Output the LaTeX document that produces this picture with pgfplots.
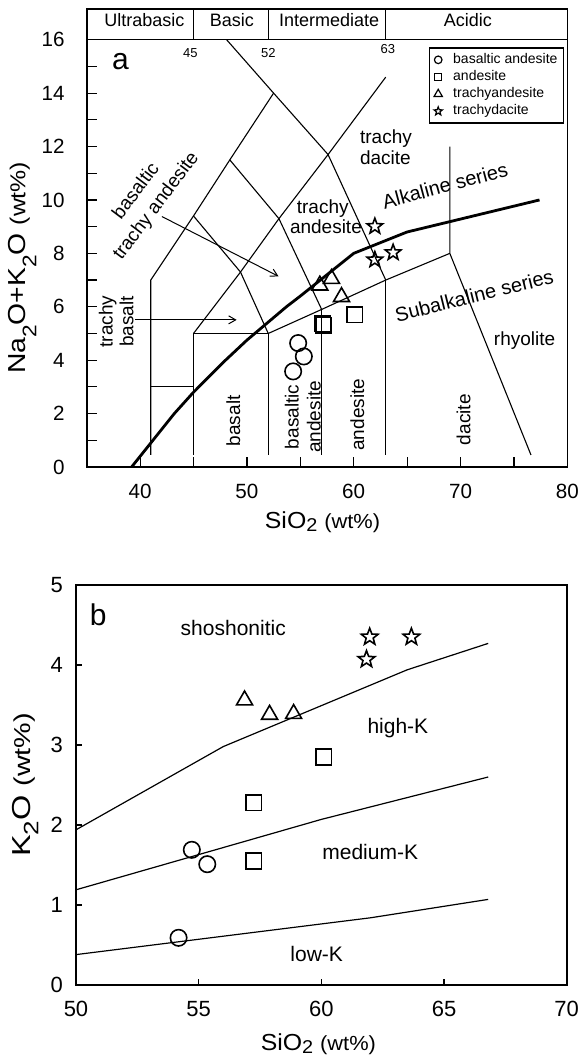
\documentclass[border=0pt]{standalone}
\usepackage{fontspec}
\setmainfont{Liberation Sans}
\usepackage{graphicx}
\usepackage{pgfplots}
\pgfplotsset{compat=1.18}
\usetikzlibrary{arrows.meta}

\newcommand{\fs}[1]{\fontsize{#1}{#1}\selectfont}
\newcommand{\fsl}[2]{\fontsize{#1}{#2}\selectfont}
\newcommand{\sub}[2][0.15em]{\raisebox{-#1}{\scalebox{0.8}{#2}}}

\pgfdeclareplotmark{ostar}{%
 \pgfpathmoveto{\pgfpointpolar{90}{\pgfplotmarksize}}%
 \pgfpathlineto{\pgfpointpolar{126}{0.42\pgfplotmarksize}}%
 \pgfpathlineto{\pgfpointpolar{162}{\pgfplotmarksize}}%
 \pgfpathlineto{\pgfpointpolar{198}{0.42\pgfplotmarksize}}%
 \pgfpathlineto{\pgfpointpolar{234}{\pgfplotmarksize}}%
 \pgfpathlineto{\pgfpointpolar{270}{0.42\pgfplotmarksize}}%
 \pgfpathlineto{\pgfpointpolar{306}{\pgfplotmarksize}}%
 \pgfpathlineto{\pgfpointpolar{342}{0.42\pgfplotmarksize}}%
 \pgfpathlineto{\pgfpointpolar{18}{\pgfplotmarksize}}%
 \pgfpathlineto{\pgfpointpolar{54}{0.42\pgfplotmarksize}}%
 \pgfpathclose
 \pgfusepathqstroke}

\pgfplotsset{
  every axis/.append style={
    scale only axis,
    axis line style={line width=0.8pt},
    tick align=inside,
    tick pos=left,
    tick style={line width=0.6pt, black},
    /pgf/number format/assume math mode=true,
  },
  bline/.style={black, line width=0.55pt, no markers, forget plot},
  pcirc/.style={only marks, mark=o, mark size=4.1pt, line width=0.8pt, black},
  psq/.style={only marks, mark=square, mark size=3.9pt, line width=0.8pt, black},
  ptri/.style={only marks, mark=triangle, mark size=4.6pt, line width=0.8pt, black},
  pstar/.style={only marks, mark=ostar, mark size=4.1pt, line width=0.8pt, black},
}

\begin{document}
\begin{tikzpicture}
\path[use as bounding box] (0,0) rectangle (290.5pt,-529.5pt);

% ---------------- panel a ----------------
\begin{axis}[
  at={(43.35pt,-4.5pt)}, anchor=north west,
  width=240.3pt, height=229pt,
  xmin=35, xmax=80, ymin=0, ymax=17.15,
  xtick={40,50,...,80}, minor xtick={45,55,65,75},
  ytick={0,2,...,16}, minor ytick={1,3,...,15},
  major tick length=5pt, minor tick length=5pt,
  tick label style={font=\fs{10.3}},
  xticklabel style={yshift=-5pt},
  yticklabel style={xshift=-7.5pt},
  xlabel={\fs{11.6}\scalebox{1.07}[1]{SiO\sub{2} {\fs{10.2}(wt\%)}}},
  ylabel={\fs{12.3}\scalebox{1.15}[1]{Na\sub[0.45em]{2}O+K\sub[0.45em]{2}O {\fs{10.8}(wt\%)}}},
  xlabel style={at={(axis description cs:0.4906,-0.1332)}, anchor=base},
  ylabel style={at={(axis description cs:-0.134,0.435)}, anchor=center},
  legend style={at={(axis cs:79.7,15.71)}, anchor=north east, draw=black,
    line width=0.6pt, font=\fs{7}, inner xsep=1pt, inner ysep=2.2pt,
    row sep=1.2pt, fill=white, nodes={inner ysep=0.4pt}},
  legend cell align=left,
  legend image code/.code={%
    \path[draw=none, fill=none] (-3.5pt,-3.2pt) (5.5pt,3.2pt);
    \draw[#1] plot coordinates {(0pt,0pt)};},
]
% field boundaries
\addplot[bline] coordinates {(41,0.45) (41,7) (45,9.4) (48.4,11.5) (52.5,14)};
\addplot[bline] coordinates {(41,3) (45,3)};
\addplot[bline] coordinates {(45,0.45) (45,5) (52,5) (52,0.45)};
\addplot[bline] coordinates {(45,5) (49.4,7.3) (53,9.3) (57.6,11.7) (63,14.6)};
\addplot[bline] coordinates {(45,9.4) (49.4,7.3) (52,5)};
\addplot[bline] coordinates {(48.4,11.5) (53,9.3) (57,5.9)};
\addplot[bline] coordinates {(48.1,16) (52.5,14) (57.6,11.7) (63,7)};
\addplot[bline] coordinates {(52,5) (57,5.9) (63,7) (69,8)};
\addplot[bline] coordinates {(57,0.45) (57,5.9)};
\addplot[bline] coordinates {(63,0.45) (63,7)};
\addplot[bline] coordinates {(76.6,0.45) (69,8) (69,12)};
% alkaline / subalkaline divide
\addplot[black, line width=1.4pt, no markers, forget plot] coordinates
  {(39.2,0) (40,0.4) (43.2,2) (45,2.8) (48,4) (50,4.75) (53.7,6) (55,6.4) (60,8) (65,8.8) (77.4,10)};

% header band
\draw[line width=0.7pt] (axis cs:35,16) -- (axis cs:80,16);
\draw[line width=0.6pt] (axis cs:45,16) -- (axis cs:45,17.15);
\draw[line width=0.6pt] (axis cs:52,16) -- (axis cs:52,17.15);
\draw[line width=0.6pt] (axis cs:63,16) -- (axis cs:63,17.15);
\node[anchor=base, font=\fs{9}] at (axis cs:40.4,16.48) {Ultrabasic};
\node[anchor=base, font=\fs{9}] at (axis cs:48.6,16.48) {Basic};
\node[anchor=base, font=\fs{9}] at (axis cs:57.7,16.48) {Intermediate};
\node[anchor=base, font=\fs{9}] at (axis cs:70.7,16.48) {Acidic};
\node[font=\fs{6.5}] at (axis cs:44.7,15.5) {45};
\node[font=\fs{6.5}] at (axis cs:52.0,15.5) {52};
\node[font=\fs{6.5}] at (axis cs:63.2,15.65) {63};

% panel letter
\node[anchor=base west, font=\fs{15}, inner sep=0pt] at (axis cs:37.35,14.87) {a};

% field labels
\node[anchor=west, align=left, font=\fsl{9.5}{10.8}, inner sep=0pt] at (axis cs:60.56,11.97) {trachy\\dacite};
\node[anchor=base west, font=\fs{9.5}, inner sep=0pt] at (axis cs:54.64,9.5) {trachy};
\node[anchor=base west, font=\fs{9.5}, inner sep=0pt] at (axis cs:54.0,8.76) {andesite};
\node[rotate=53, align=center, font=\fsl{9.5}{12.5}, inner sep=0pt] at (axis cs:40.6,10.04) {basaltic\\trachy andesite};
\node[rotate=90, align=center, font=\fsl{9.5}{10.3}, inner sep=0pt] at (axis cs:37.76,5.45) {trachy\\basalt};
\node[rotate=90, font=\fs{9.5}, inner sep=0pt] at (axis cs:48.72,1.73) {basalt};
\node[rotate=90, align=center, font=\fsl{9.5}{11}, inner sep=0pt] at (axis cs:55.23,1.88) {basaltic\\andesite};
\node[rotate=90, font=\fs{9.5}, inner sep=0pt] at (axis cs:60.33,1.96) {andesite};
\node[rotate=90, font=\fs{9.5}, inner sep=0pt] at (axis cs:70.3,1.77) {dacite};
\node[anchor=base, font=\fs{9.5}] at (axis cs:76.0,4.55) {rhyolite};
\node[rotate=15, font=\fs{10}] at (axis cs:68.55,10.54) {Alkaline series};
\node[rotate=14, font=\fs{10}] at (axis cs:71.28,6.42) {Subalkaline series};

% arrows
\draw[line width=0.5pt, -{Straight Barb[length=3.5pt,width=4pt]}] (axis cs:42.04,9.38) -- (axis cs:52.96,7.14);
\draw[line width=0.5pt, -{Straight Barb[length=3.5pt,width=4pt]}] (axis cs:39.52,5.51) -- (axis cs:49.04,5.51);

% samples
\addplot[pcirc, legend image post style={mark size=1.9pt, line width=0.6pt}] coordinates {(54.33,3.58) (54.8,4.64) (55.33,4.14)};
\addlegendentry{basaltic andesite}
\addplot[psq, legend image post style={mark size=1.7pt, line width=0.6pt}] coordinates {(57.1,5.37) (57.2,5.31) (60.1,5.7)};
\addlegendentry{andesite}
\addplot[ptri, legend image post style={mark size=2.4pt, line width=0.6pt}] coordinates {(56.83,6.8) (57.92,7.05) (58.86,6.37)};
\addlegendentry{trachyandesite}
\addplot[pstar, legend image post style={mark size=2.2pt, line width=0.6pt}] coordinates {(61.98,7.76) (63.69,8.03) (61.98,9.01)};
\addlegendentry{trachydacite}
\end{axis}

% ---------------- panel b ----------------
\begin{axis}[
  at={(38pt,-292.5pt)}, anchor=north west,
  width=245.35pt, height=200pt,
  xmin=50, xmax=70, ymin=0, ymax=5,
  xtick={50,55,...,70}, ytick={0,1,...,5},
  major tick length=3pt,
  tick label style={font=\fs{11}},
  xticklabel style={yshift=-4.5pt},
  yticklabel style={xshift=-3pt},
  xlabel={\fs{11.6}\scalebox{1.07}[1]{SiO\sub{2} {\fs{10.2}(wt\%)}}},
  ylabel={\fs{13}\scalebox{1.25}[1]{K\sub[0.3em]{2}O {\fs{11.5}(wt\%)}}},
  xlabel style={at={(axis description cs:0.494,-0.1625)}, anchor=base},
  ylabel style={at={(axis description cs:-0.1029,0.5)}, anchor=center},
]
\addplot[black, line width=0.6pt, no markers, forget plot] coordinates {(50,1.94) (56,2.98) (63.5,3.94) (66.8,4.27)};
\addplot[black, line width=0.6pt, no markers, forget plot] coordinates {(50,1.19) (60,2.07) (66.8,2.6)};
\addplot[black, line width=0.6pt, no markers, forget plot] coordinates {(50,0.38) (62,0.84) (66.8,1.07)};

\node[anchor=base west, font=\fs{15}, inner sep=0pt] at (axis cs:50.55,4.5) {b};
\node[anchor=base, font=\fs{10.5}] at (axis cs:56.41,4.375) {shoshonitic};
\node[anchor=base, font=\fs{10.5}] at (axis cs:63.12,3.14) {high-K};
\node[anchor=base, font=\fs{10.5}] at (axis cs:61.99,1.57) {medium-K};
\node[anchor=base, font=\fs{10.5}] at (axis cs:59.81,0.29) {low-K};

\addplot[pcirc] coordinates {(54.72,1.69) (55.35,1.51) (54.18,0.59)};
\addplot[psq] coordinates {(57.24,2.28) (57.24,1.55) (60.09,2.85)};
\addplot[ptri] coordinates {(56.87,3.56) (57.89,3.38) (58.87,3.39)};
\addplot[pstar, mark size=4.4pt] coordinates {(61.97,4.35) (63.67,4.35) (61.84,4.07)};
\end{axis}
\end{tikzpicture}
\end{document}
